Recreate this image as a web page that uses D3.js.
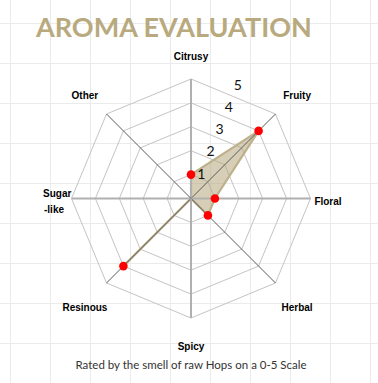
<!DOCTYPE html>
<html>
<head>
<meta charset="utf-8">
<script src="https://cdn.jsdelivr.net/npm/d3@7"></script>
<style>
  body { margin: 0; background: #fff; }
  svg { display: block; }
</style>
</head>
<body>
<div id="chart"></div>
<script>
// chart data
var categories = ["Citrusy", "Fruity", "Floral", "Herbal", "Spicy", "Resinous", "Sugar-like", "Other"];
var scores = [1, 4, 1, 1, 0, 4, 0, 0];
var ringTicks = [1, 2, 3, 4, 5];

var svgWidth = 378;
var svgHeight = 383;
var cx = 191, cy = 198.5;
var maxR = 119.5;

var svg = d3.select("#chart")
  .append("svg")
  .attr("width", svgWidth)
  .attr("height", svgHeight);

// light background grid
var bg = svg.append("g");
d3.range(10.5, svgWidth, 40).forEach(function(x) {
  bg.append("line").attr("x1", x).attr("x2", x).attr("y1", 0).attr("y2", svgHeight)
    .attr("stroke", "#ebebeb").attr("stroke-width", 1);
});
d3.range(23.5, svgHeight, 40).forEach(function(y) {
  bg.append("line").attr("x1", 0).attr("x2", svgWidth).attr("y1", y).attr("y2", y)
    .attr("stroke", "#ebebeb").attr("stroke-width", 1);
});

// title
svg.append("text")
  .attr("x", 36)
  .attr("y", 37)
  .style("font-family", "Lato, sans-serif")
  .style("font-weight", "700")
  .style("font-size", "27px")
  .style("fill", "#b8aa7e")
  .text("AROMA EVALUATION");

var rScale = d3.scaleLinear().domain([0, 5]).range([0, maxR]);
var angle = d3.scalePoint().domain(categories).range([0, 2 * Math.PI * 7 / 8]);

function px(cat, v) { return cx + rScale(v) * Math.sin(angle(cat)); }
function py(cat, v) { return cy - rScale(v) * Math.cos(angle(cat)); }

var chartGroup = svg.append("g");

// rings
ringTicks.forEach(function(t) {
  var pts = categories.map(function(c) { return [px(c, t), py(c, t)]; });
  chartGroup.append("polygon")
    .attr("points", pts.map(function(p) { return p.join(","); }).join(" "))
    .attr("fill", "none")
    .attr("stroke", "#c4c4c4")
    .attr("stroke-width", 1);
});

// series area
var radarLine = d3.lineRadial()
  .angle(function(d, i) { return angle(categories[i]); })
  .radius(function(d) { return rScale(d); })
  .curve(d3.curveLinearClosed);

chartGroup.append("path")
  .attr("transform", "translate(" + cx + "," + cy + ")")
  .attr("d", radarLine(scores))
  .attr("fill", "rgba(181,166,122,0.55)")
  .attr("stroke", "#bdb08a")
  .attr("stroke-width", 2.2);

// spokes
categories.forEach(function(c, i) {
  var diag = i % 2 === 1;
  chartGroup.append("line")
    .attr("x1", cx).attr("y1", cy)
    .attr("x2", px(c, 5)).attr("y2", py(c, 5))
    .attr("stroke", diag ? "#5a5a5a" : "#b0b0b0")
    .attr("stroke-width", diag ? 1 : 2);
});

// markers
chartGroup.selectAll("circle.pt")
  .data(scores.map(function(v, i) { return { cat: categories[i], v: v }; }).filter(function(d) { return d.v > 0; }))
  .enter()
  .append("circle")
  .attr("class", "pt")
  .attr("cx", function(d) { return px(d.cat, d.v); })
  .attr("cy", function(d) { return py(d.cat, d.v); })
  .attr("r", 4.3)
  .attr("fill", "#ff0000");

// ring value labels
chartGroup.selectAll("text.tick")
  .data(ringTicks)
  .enter()
  .append("text")
  .attr("class", "tick")
  .attr("x", function(d) { return cx + (rScale(d) + 3) * Math.sin(Math.PI / 8); })
  .attr("y", function(d) { return cy - (rScale(d) + 3) * Math.cos(Math.PI / 8); })
  .attr("dy", "0.35em")
  .style("text-anchor", "middle")
  .style("font-family", "Lato, sans-serif")
  .style("font-size", "14px")
  .style("fill", "#111")
  .text(function(d) { return d; });

// category labels
categories.forEach(function(c, i) {
  var a = angle(c);
  var R = (i % 2 === 1) ? 150 : (i % 4 === 0 ? 145 : 137);
  var x = cx + R * Math.sin(a);
  var y = cy - R * Math.cos(a) + 3;
  var t = chartGroup.append("text")
    .style("font-family", "'Liberation Sans', Arial, sans-serif")
    .style("font-weight", "bold")
    .style("font-size", "10px")
    .style("fill", "#000");
  if (c === "Sugar-like") {
    t.style("text-anchor", "start");
    t.append("tspan").attr("x", 43).attr("y", y - 8).attr("dy", "0.35em").text("Sugar");
    t.append("tspan").attr("x", 44).attr("y", y + 8).attr("dy", "0.35em").text("-like");
  } else {
    t.attr("x", x).attr("y", y).attr("dy", "0.35em")
      .style("text-anchor", "middle")
      .text(c);
  }
});

// subtitle
svg.append("text")
  .attr("x", 191)
  .attr("y", 369)
  .style("text-anchor", "middle")
  .style("font-family", "Lato, sans-serif")
  .style("font-size", "11.5px")
  .style("fill", "#333")
  .text("Rated by the smell of raw Hops on a 0-5 Scale");
</script>
</body>
</html>
